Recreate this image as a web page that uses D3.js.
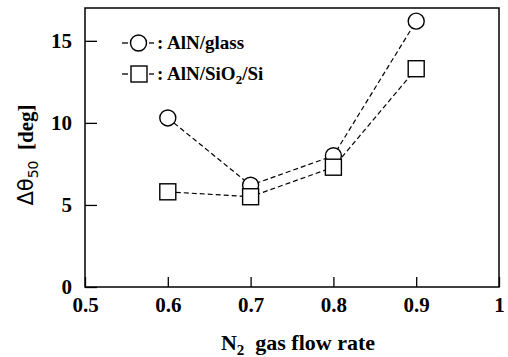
<!DOCTYPE html>
<html>
<head>
<meta charset="utf-8">
<script src="https://cdn.jsdelivr.net/npm/d3@7"></script>
<style>
  body { margin: 0; background: #fff; }
</style>
</head>
<body>
<div id="chart"></div>
<script>
// data
const flowRates = [0.6, 0.7, 0.8, 0.9];
const glassValues = [10.3, 6.2, 8.0, 16.2];
const sio2Values = [5.8, 5.5, 7.3, 13.3];
const xTicks = [0.5, 0.6, 0.7, 0.8, 0.9, 1];
const yTicks = [0, 5, 10, 15];
const legendLabels = ["AlN/glass", "AlN/SiO2/Si"];

const SERIF = "'Liberation Serif', 'DejaVu Serif', serif";
const SANS = "'DejaVu Sans', sans-serif";

const W = 508, H = 357;
const margin = { top: 8, right: 9, bottom: 70, left: 85 };

const svg = d3.select("#chart").append("svg")
    .attr("width", W)
    .attr("height", H);

const x = d3.scaleLinear().domain([0.5, 1]).range([margin.left, W - margin.right]);
const y = d3.scaleLinear().domain([0, 17]).range([H - margin.bottom, margin.top]);

function txt(sel, size) {
  return sel.style("font-family", SERIF).style("font-weight", "bold")
      .style("font-size", size + "px").attr("fill", "#000");
}

// frame
svg.append("rect")
    .attr("x", x(0.5)).attr("y", y(17))
    .attr("width", x(1) - x(0.5)).attr("height", y(0) - y(17))
    .attr("fill", "none").attr("stroke", "#000").attr("stroke-width", 1.5);

// x axis, ticks pointing inward
const xAxis = svg.append("g")
    .attr("transform", `translate(0,${y(0)})`)
    .call(d3.axisBottom(x).tickValues(xTicks).tickSizeInner(-10).tickSizeOuter(0)
        .tickPadding(10).tickFormat(d => d === 1 ? "1" : d3.format(".1f")(d)));
xAxis.select(".domain").remove();
xAxis.selectAll("line").attr("stroke-width", 1.3);
txt(xAxis.selectAll("text"), 21);

// y axis, ticks pointing inward
const yAxis = svg.append("g")
    .attr("transform", `translate(${x(0.5)},0)`)
    .call(d3.axisLeft(y).tickValues(yTicks).tickSizeInner(-12).tickSizeOuter(0)
        .tickPadding(13));
yAxis.select(".domain").remove();
yAxis.selectAll("line").attr("stroke-width", 1.3);
txt(yAxis.selectAll("text"), 21);

// x label
const xl = txt(svg.append("text"), 22)
    .attr("x", 298).attr("y", 350)
    .attr("text-anchor", "middle");
xl.append("tspan").text("N");
xl.append("tspan").attr("dy", 5).style("font-size", "15px").text("2");
xl.append("tspan").attr("dy", -5).text("\u00a0 gas flow rate");

// y label
const yl = txt(svg.append("text"), 21)
    .attr("transform", "translate(33,155) rotate(-90)")
    .attr("text-anchor", "middle");
yl.append("tspan").style("font-family", SANS).style("font-weight", "normal").text("\u0394\u03b8");
yl.append("tspan").attr("dy", 5).style("font-family", SANS).style("font-weight", "normal").style("font-size", "14px").text("50");
yl.append("tspan").attr("dy", -5).text("\u00a0 [deg]");

// series
const line = d3.line().x(d => x(d[0])).y(d => y(d[1]));
const glassPts = flowRates.map((f, i) => [f, glassValues[i]]);
const sio2Pts = flowRates.map((f, i) => [f, sio2Values[i]]);

[glassPts, sio2Pts].forEach(pts => {
  svg.append("path")
      .attr("d", line(pts))
      .attr("fill", "none").attr("stroke", "#000")
      .attr("stroke-width", 1.2).attr("stroke-dasharray", "5,3");
});

svg.selectAll(".circ").data(glassPts).join("circle")
    .attr("class", "circ")
    .attr("cx", d => x(d[0])).attr("cy", d => y(d[1])).attr("r", 8)
    .attr("fill", "#fff").attr("stroke", "#000").attr("stroke-width", 1.4);

svg.selectAll(".sq").data(sio2Pts).join("rect")
    .attr("class", "sq")
    .attr("x", d => x(d[0]) - 8).attr("y", d => y(d[1]) - 8)
    .attr("width", 16).attr("height", 16)
    .attr("fill", "#fff").attr("stroke", "#000").attr("stroke-width", 1.4);

// legend
const lg = svg.append("g");
[43, 74].forEach((ly, i) => {
  lg.append("line").attr("x1", 122).attr("x2", 128).attr("y1", ly).attr("y2", ly)
      .attr("stroke", "#000").attr("stroke-width", 1.3);
  lg.append("line").attr("x1", 149).attr("x2", 154).attr("y1", ly).attr("y2", ly)
      .attr("stroke", "#000").attr("stroke-width", 1.3);
  if (i === 0) {
    lg.append("circle").attr("cx", 138.5).attr("cy", ly).attr("r", 8)
        .attr("fill", "#fff").attr("stroke", "#000").attr("stroke-width", 1.4);
  } else {
    lg.append("rect").attr("x", 131).attr("y", ly - 8).attr("width", 16).attr("height", 16)
        .attr("fill", "#fff").attr("stroke", "#000").attr("stroke-width", 1.4);
  }
  const t = txt(lg.append("text"), 19).attr("x", 157).attr("y", ly + 6);
  if (i === 0) {
    t.text(": " + legendLabels[0]);
  } else {
    t.append("tspan").text(": AlN/SiO");
    t.append("tspan").attr("dy", 4).style("font-size", "13px").text("2");
    t.append("tspan").attr("dy", -4).text("/Si");
  }
});
</script>
</body>
</html>
